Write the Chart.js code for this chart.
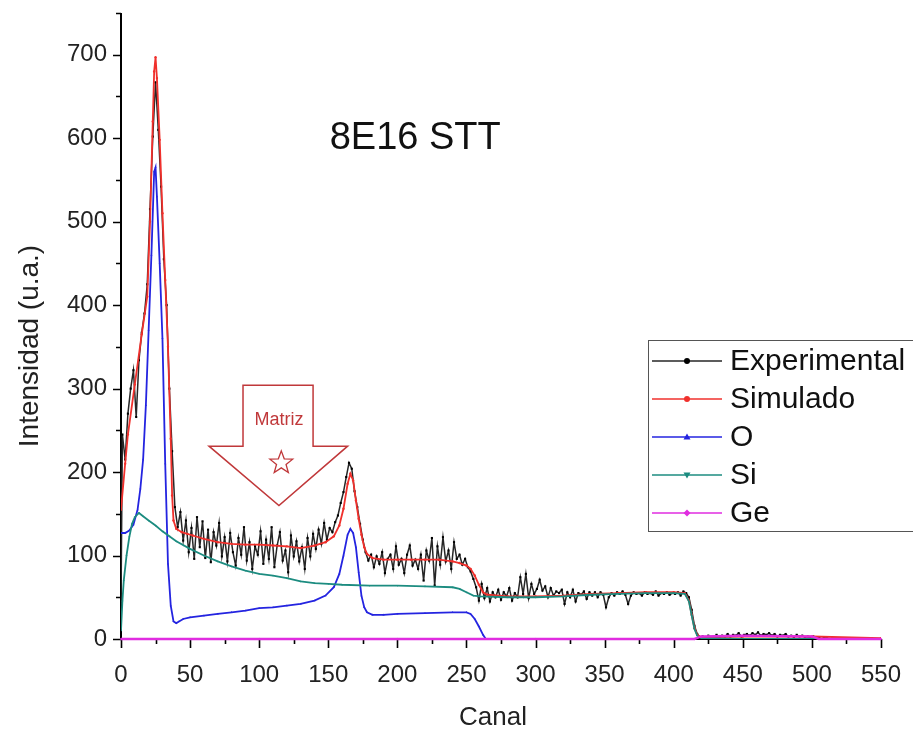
<!DOCTYPE html>
<html>
<head>
<meta charset="utf-8">
<script src="https://cdn.jsdelivr.net/npm/chart.js@4.4.1/dist/chart.umd.min.js"></script>
<style>
  html, body { margin: 0; padding: 0; background: #fff; }
  canvas { display: block; }
</style>
</head>
<body>
<canvas id="rbs" width="913" height="736"></canvas>
<script>
// RBS spectrum, sample 8E16 STT: measured counts per channel and the simulated components

const expCanal = [0, 1, 3, 5, 7, 9, 11, 13, 15, 17, 19, 21, 23, 25, 27, 29, 31, 33, 35, 37, 39,
  41, 43, 45, 47, 49, 51, 53, 55, 57, 59, 61, 63, 65, 67, 69, 71, 73, 75, 77, 79,
  81, 83, 85, 87, 89, 91, 93, 95, 97, 99, 101, 103, 105, 107, 109, 111, 113, 115, 117, 119,
  121, 123, 125, 127, 129, 131, 133, 135, 137, 139, 141, 143, 145, 147, 149, 151, 153, 155, 157, 159,
  161, 163, 165, 167, 169, 171, 173, 175, 177, 179, 181, 183, 185, 187, 189, 191, 193, 195, 197, 199,
  201, 203, 205, 207, 209, 211, 213, 215, 217, 219, 221, 223, 225, 227, 229, 231, 233, 235, 237, 239,
  241, 243, 245, 247, 249, 251, 253, 255, 257, 259, 261, 263, 265, 267, 269, 271, 273, 275, 277, 279,
  281, 283, 285, 287, 289, 291, 293, 295, 297, 299, 301, 303, 305, 307, 309, 311, 313, 315, 317, 319,
  321, 323, 325, 327, 329, 331, 333, 335, 337, 339, 341, 343, 345, 347, 349, 351, 353, 355, 357, 359,
  361, 363, 365, 367, 369, 371, 373, 375, 377, 379, 381, 383, 385, 387, 389, 391, 393, 395, 397, 399,
  401, 403, 405, 407, 409, 411, 413, 415, 417, 419, 421, 423, 425, 427, 429, 431, 433, 435, 437, 439,
  441, 443, 445, 447, 449, 451, 453, 455, 457, 459, 461, 463, 465, 467, 469, 471, 473, 475, 477, 479,
  481, 483, 485, 487, 489, 491, 493, 495, 497, 499, 501, 503, 505, 507, 509, 511, 513, 515, 517, 519,
  521, 523, 525];
const expInt = [40, 245, 215, 270, 300, 322, 266, 334, 367, 390, 425, 515, 602, 667, 610, 542, 455, 400, 300, 225, 158,
  134, 152, 118, 142, 104, 133, 96, 146, 110, 141, 97, 131, 92, 128, 112, 139, 99, 122, 93, 127,
  104, 88, 121, 101, 134, 94, 116, 84, 111, 101, 129, 90, 119, 96, 134, 86, 112, 128, 94, 106,
  80, 124, 99, 117, 93, 110, 84, 121, 99, 126, 108, 131, 114, 139, 119, 133, 128, 140, 148, 163,
  176, 194, 211, 204, 177, 158, 138, 119, 104, 94, 101, 86, 99, 90, 104, 79, 96, 101, 84, 111,
  89, 96, 79, 101, 112, 88, 95, 84, 101, 70, 106, 94, 121, 64, 111, 89, 122, 93, 106, 84,
  116, 96, 101, 89, 96, 86, 81, 72, 62, 46, 66, 49, 61, 45, 56, 50, 59, 47, 56, 51,
  61, 46, 55, 50, 74, 54, 78, 49, 66, 54, 60, 71, 58, 63, 50, 61, 52, 57, 55, 59,
  42, 56, 50, 59, 45, 55, 53, 57, 48, 56, 52, 56, 50, 56, 53, 38, 50, 55, 52, 56,
  54, 57, 53, 42, 52, 56, 54, 55, 52, 56, 54, 55, 53, 57, 52, 55, 54, 56, 53, 55,
  54, 56, 52, 57, 55, 50, 35, 16, 6, 2, 3, 1, 4, 2, 3, 5, 2, 4, 3, 6,
  3, 5, 4, 7, 3, 5, 6, 4, 7, 5, 8, 4, 6, 5, 7, 4, 6, 3, 5, 4,
  6, 3, 4, 2, 5, 3, 4, 2, 3, 1, 3, 1, 2, 0, 2, 1, 0, 1, 0, 1,
  0, 1, 0];

const simCanal = [0, 3, 5, 10, 15, 19, 21, 23, 24, 25, 26, 28, 30, 32, 34, 36, 37, 38, 40, 44,
  48, 52, 60, 70, 80, 90, 100, 110, 120, 130, 140, 148, 154, 158, 161, 164, 166, 168, 170, 172,
  174, 176, 178, 182, 190, 200, 210, 220, 230, 240, 245, 250, 253, 256, 259, 262, 265, 280, 300, 320,
  340, 360, 380, 400, 408, 411, 413, 415, 417, 420, 450, 500, 550];
const simInt = [155, 210, 245, 305, 365, 410, 500, 620, 680, 697, 672, 598, 510, 430, 350, 240, 172, 142, 132, 128,
  126, 124, 120, 116, 114, 113, 113, 112, 111, 109, 112, 116, 123, 136, 156, 186, 198, 190, 166, 144,
  125, 110, 102, 97, 95, 95, 95, 95, 95, 93, 91, 88, 84, 76, 65, 56, 53, 51, 51, 52,
  54, 55, 56, 56, 55, 46, 29, 13, 5, 2, 3, 3, 1];

const oCanal = [0, 3, 6, 9, 12, 14, 16, 18, 20, 22, 24, 25, 26, 28, 30, 32, 34, 36, 38, 40,
  42, 45, 50, 60, 70, 80, 90, 100, 110, 120, 130, 140, 148, 154, 158, 161, 164, 166, 168, 170,
  172, 174, 176, 178, 182, 190, 200, 220, 240, 250, 253, 256, 259, 262, 264];
const oInt = [127, 127, 130, 137, 155, 180, 215, 280, 370, 460, 560, 565, 530, 450, 360, 210, 90, 40, 21, 19,
  21, 24, 26, 28, 30, 32, 34, 37, 38, 40, 42, 46, 52, 62, 78, 100, 125, 132, 127, 110,
  80, 52, 38, 32, 29, 29, 30, 31, 32, 32, 30, 24, 15, 5, 0];

const siCanal = [0, 1, 2, 4, 6, 8, 10, 13, 16, 20, 25, 30, 35, 40, 50, 60, 70, 80, 90, 100,
  110, 120, 130, 140, 150, 160, 180, 200, 220, 240, 245, 250, 255, 260, 280, 300, 320, 340, 360, 380,
  400, 408, 411, 413, 415, 417, 420, 450, 500, 550];
const siInt = [10, 45, 70, 100, 122, 138, 146, 151, 147, 142, 136, 129, 123, 117, 108, 100, 93, 87, 82, 78,
  76, 73, 69, 67, 66, 65, 64, 64, 63, 62, 60, 56, 52, 51, 50, 50, 51, 53, 54, 55,
  55, 54, 45, 28, 12, 4, 1, 0, 0, 0];

const geCanal = [0, 100, 200, 300, 415, 420, 450, 500, 505, 550];
const geInt = [0, 0, 0, 0, 0, 3, 4, 3, 0, 0];

const xTickVals = [0, 50, 100, 150, 200, 250, 300, 350, 400, 450, 500, 550];
const yTickVals = [0, 100, 200, 300, 400, 500, 600, 700];

const seriesNames = ['Experimental', 'Simulado', 'O', 'Si', 'Ge'];

const FONT = '"Liberation Sans", Arial, sans-serif';
const C_EXP = '#262626';
const C_SIM = '#f0302c';
const C_O = '#2424e0';
const C_SI = '#1c8c80';
const C_GE = '#e02ce0';
const C_NOTE = '#c0383a';

const pairs = (xs, ys) => xs.map((x, i) => ({ x, y: ys[i] }));

// axis lines sit under the curves (the Ge baseline runs on top of the x axis)
const axes = {
  id: 'axes',
  beforeDatasetsDraw(chart) {
    const { ctx, chartArea: a, scales: { x, y } } = chart;
    ctx.save();
    ctx.strokeStyle = '#000';
    ctx.lineWidth = 2;
    ctx.beginPath();
    ctx.moveTo(a.left, a.top);
    ctx.lineTo(a.left, a.bottom);
    ctx.lineTo(a.right, a.bottom);
    ctx.stroke();

    // majors on the labels, minors halfway
    ctx.lineWidth = 1.6;
    ctx.beginPath();
    for (let v = 0; v <= 750; v += 50) {
      const py = Math.round(y.getPixelForValue(v)) + 0.5;
      const len = v % 100 === 0 ? 8 : 5;
      ctx.moveTo(a.left - len, py);
      ctx.lineTo(a.left, py);
    }
    for (let v = 0; v <= 550; v += 25) {
      const px = Math.round(x.getPixelForValue(v)) + 0.5;
      const len = v % 50 === 0 ? 9 : 5;
      ctx.moveTo(px, a.bottom);
      ctx.lineTo(px, a.bottom + len);
    }
    ctx.stroke();
    ctx.restore();
  }
};

// axis titles, legend box and the "Matriz" arrow
const decor = {
  id: 'decor',
  afterDraw(chart) {
    const { ctx, chartArea: a, scales: { x, y } } = chart;
    ctx.save();

    ctx.fillStyle = '#222';
    ctx.font = '26px ' + FONT;
    ctx.textAlign = 'center';
    ctx.textBaseline = 'middle';
    ctx.fillText('Canal', (a.left + a.right) / 2 - 8, 718);
    ctx.save();
    ctx.translate(30, 346);
    ctx.rotate(-Math.PI / 2);
    ctx.font = '28px ' + FONT;
    ctx.fillText('Intensidad (u.a.)', 0, 0);
    ctx.restore();

    // sample label
    ctx.fillStyle = '#111';
    ctx.font = '38px ' + FONT;
    ctx.textAlign = 'left';
    ctx.fillText('8E16 STT', x.getPixelForValue(151), y.getPixelForValue(600));

    // arrow pointing at the matrix plateau
    const P = (cx, cy) => [x.getPixelForValue(cx), y.getPixelForValue(cy)];
    const arrow = [P(88.3, 304), P(139, 304), P(139, 231), P(164, 231), P(114.3, 160), P(63.7, 231), P(88.3, 231)];
    ctx.strokeStyle = C_NOTE;
    ctx.lineWidth = 1.5;
    ctx.beginPath();
    arrow.forEach(([px, py], i) => (i ? ctx.lineTo(px, py) : ctx.moveTo(px, py)));
    ctx.closePath();
    ctx.stroke();
    ctx.fillStyle = C_NOTE;
    ctx.font = '18px ' + FONT;
    ctx.textAlign = 'center';
    const [tx, ty] = P(114.3, 262);
    ctx.fillText('Matriz', tx, ty);
    const [sx, sy] = P(116, 211);
    ctx.beginPath();
    for (let k = 0; k < 10; k++) {
      const r = k % 2 === 0 ? 12 : 5;
      const ang = -Math.PI / 2 + k * Math.PI / 5;
      const px = sx + r * Math.cos(ang), py = sy + r * Math.sin(ang);
      k ? ctx.lineTo(px, py) : ctx.moveTo(px, py);
    }
    ctx.closePath();
    ctx.lineWidth = 1.3;
    ctx.stroke();

    // legend box
    ctx.fillStyle = '#fff';
    ctx.fillRect(648, 340, 270, 192);
    ctx.strokeStyle = '#555';
    ctx.lineWidth = 1;
    ctx.strokeRect(648.5, 340.5, 280, 191);
    ctx.font = '30px ' + FONT;
    ctx.textAlign = 'left';
    chart.data.datasets.forEach((ds, i) => {
      const ry = 361 + i * 38;
      ctx.strokeStyle = ds.borderColor;
      ctx.lineWidth = 1.3;
      ctx.beginPath();
      ctx.moveTo(652, ry);
      ctx.lineTo(722, ry);
      ctx.stroke();
      ctx.fillStyle = ds.pointBackgroundColor;
      ctx.save();
      ctx.translate(687, ry);
      ctx.beginPath();
      if (ds.pointStyle === 'triangle') {
        const s = ds.pointRotation ? -1 : 1;
        ctx.moveTo(0, -3.5 * s); ctx.lineTo(3.5, 2.5 * s); ctx.lineTo(-3.5, 2.5 * s);
      } else if (ds.pointStyle === 'rectRot') {
        ctx.moveTo(0, -3.5); ctx.lineTo(3.5, 0); ctx.lineTo(0, 3.5); ctx.lineTo(-3.5, 0);
      } else {
        ctx.arc(0, 0, 3, 0, Math.PI * 2);
      }
      ctx.closePath();
      ctx.fill();
      ctx.restore();
      ctx.fillStyle = '#111';
      ctx.fillText(ds.label, 730, ry + 1);
    });

    ctx.restore();
  }
};

const line = (label, xs, ys, color, extra) => Object.assign({
  label,
  data: pairs(xs, ys),
  borderColor: color,
  backgroundColor: color,
  pointBackgroundColor: color,
  pointBorderColor: color,
  borderWidth: 1.8,
  pointRadius: 1.2,
  pointBorderWidth: 0,
  tension: 0,
  fill: false
}, extra);

new Chart(document.getElementById('rbs').getContext('2d'), {
  type: 'line',
  data: {
    datasets: [
      line(seriesNames[0], expCanal, expInt, C_EXP, { borderWidth: 1.5, pointRadius: 1.5, pointStyle: 'rect', pointBackgroundColor: '#000', order: 5 }),
      line(seriesNames[1], simCanal, simInt, C_SIM, { order: 4 }),
      line(seriesNames[2], oCanal, oInt, C_O, { pointStyle: 'triangle', order: 3 }),
      line(seriesNames[3], siCanal, siInt, C_SI, { pointStyle: 'triangle', pointRotation: 180, order: 2 }),
      line(seriesNames[4], geCanal, geInt, C_GE, { borderWidth: 2.4, pointStyle: 'rectRot', order: 1, clip: false })
    ]
  },
  options: {
    responsive: false,
    animation: false,
    layout: { padding: { top: 13, right: 32, left: 0, bottom: 0 } },
    plugins: { legend: { display: false }, tooltip: { enabled: false } },
    scales: {
      x: {
        type: 'linear',
        min: 0,
        max: 550,
        afterBuildTicks: s => { s.ticks = xTickVals.map(value => ({ value })); },
        afterFit: s => { s.height = 97; s.paddingLeft = 0; s.paddingRight = 0; },
        grid: { display: false, drawTicks: false },
        border: { display: false },
        ticks: { padding: 22, color: '#222', font: { family: FONT, size: 24 }, maxRotation: 0 }
      },
      y: {
        type: 'linear',
        min: 0,
        max: 750,
        afterBuildTicks: s => { s.ticks = yTickVals.map(value => ({ value })); },
        afterFit: s => { s.width = 121; s.paddingTop = 0; s.paddingBottom = 0; },
        grid: { display: false, drawTicks: false },
        border: { display: false },
        ticks: { padding: 14, color: '#222', font: { family: FONT, size: 24 } }
      }
    }
  },
  plugins: [axes, decor]
});
</script>
</body>
</html>
